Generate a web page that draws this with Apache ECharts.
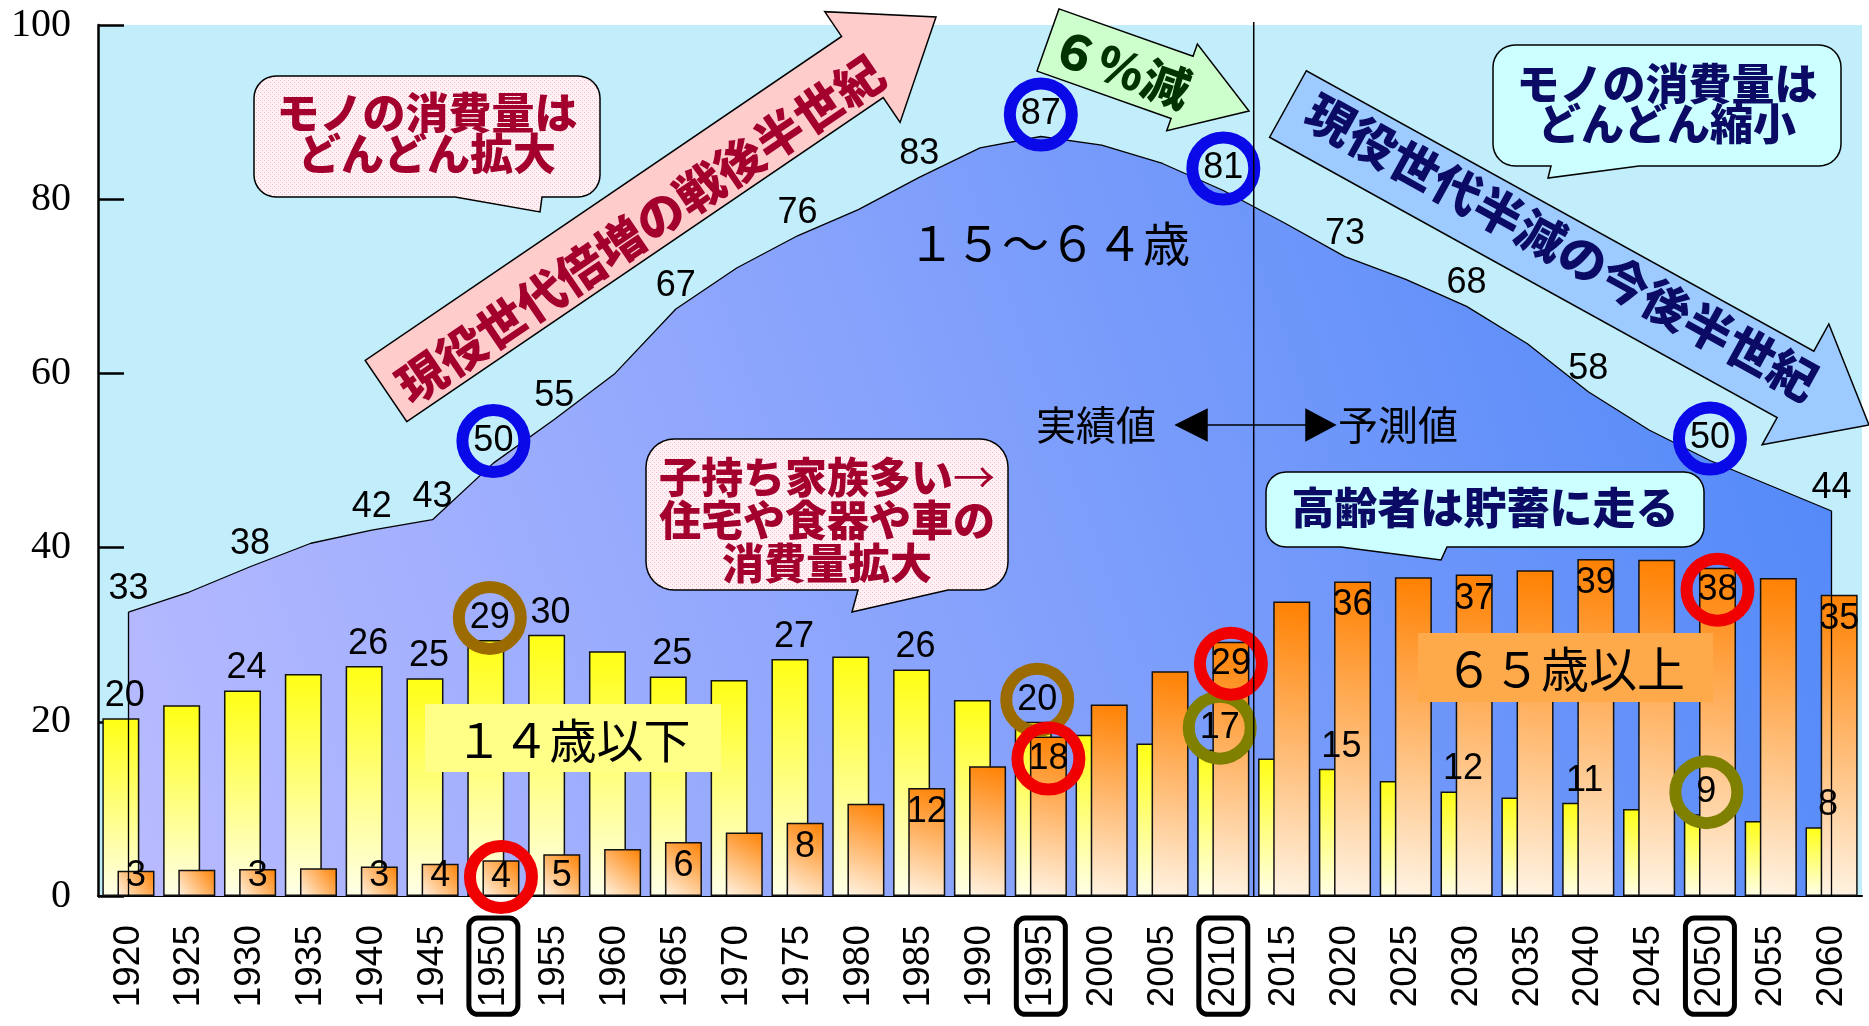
<!DOCTYPE html>
<html>
<head>
<meta charset="utf-8">
<title>年齢区分別人口の推移</title>
<script src="https://cdn.jsdelivr.net/npm/echarts@6.0.0/dist/echarts.min.js"></script>
<style>
html, body { margin: 0; padding: 0; background: #fff; }
#main { width: 1869px; height: 1026px; }
</style>
</head>
<body>
<div id="main"></div>
<script>
// 年次
const years = ['1920', '1925', '1930', '1935', '1940', '1945', '1950', '1955', '1960', '1965',
  '1970', '1975', '1980', '1985', '1990', '1995', '2000', '2005', '2010', '2015',
  '2020', '2025', '2030', '2035', '2040', '2045', '2050', '2055', '2060'];
// 14歳以下（百万人）
const age0to14 = [20.4, 21.9, 23.6, 25.5, 26.4, 25.0, 29.4, 30.0, 28.1, 25.2,
  24.8, 27.2, 27.5, 26.0, 22.5, 20.0, 18.5, 17.5, 16.8, 15.8,
  14.6, 13.2, 12.0, 11.3, 10.7, 10.0, 9.4, 8.6, 7.9];
// 15～64歳
const age15to64 = [32.6, 34.9, 37.8, 40.5, 42.0, 43.2, 49.7, 54.7, 60.0, 67.4,
  72.1, 75.8, 78.8, 82.5, 85.9, 87.2, 86.2, 84.1, 81.0, 77.3,
  73.4, 70.8, 67.7, 63.4, 57.9, 53.5, 50.0, 47.1, 44.2];
// 65歳以上
const age65plus = [2.9, 3.0, 3.1, 3.2, 3.4, 3.7, 4.1, 4.8, 5.4, 6.2,
  7.3, 8.4, 10.6, 12.4, 14.9, 18.3, 22.0, 25.8, 29.2, 33.8,
  36.1, 36.6, 36.9, 37.4, 38.7, 38.6, 37.7, 36.5, 34.6];
// 数値を表示する年
const labelYears = ['1920', '1930', '1940', '1945', '1950', '1955', '1965', '1975', '1985',
  '1995', '2010', '2020', '2030', '2040', '2050', '2060'];
// 丸で囲む年（軸ラベルも枠で囲む）
const circledYears = ['1950', '1995', '2010', '2050'];
// 実績値と予測値の境目
const lastActualYear = '2010';
const firstForecastYear = '2015';

const CJK = "'Noto Sans CJK JP', 'Noto Sans CJK SC', sans-serif";
const numFont = { fontFamily: "'Liberation Sans', Arial, sans-serif", fontSize: 36, lineHeight: 36, color: '#000' };

// 丸囲み
function ring(color) {
  return { width: 62, height: 62, lineHeight: 62, borderColor: color, borderWidth: 12, borderRadius: 31 };
}

function withLabels(values, labelFor) {
  return values.map((v, i) => {
    const y = years[i];
    if (labelYears.indexOf(y) < 0) return { value: v, label: { show: false } };
    return { value: v, label: Object.assign({ show: true }, labelFor(v, y, circledYears.indexOf(y) >= 0)) };
  });
}

const chart = echarts.init(document.getElementById('main'));

chart.setOption({
  animation: false,
  grid: {
    left: 98, right: 7, top: 25, bottom: 130,
    show: true, backgroundColor: '#C2EEFC', borderWidth: 0
  },
  xAxis: {
    type: 'category',
    data: years,
    axisLine: { lineStyle: { color: '#000', width: 2 } },
    axisTick: { show: false },
    axisLabel: {
      interval: 0,
      rotate: 90,
      margin: 22,
      color: '#000',
      fontFamily: "'Liberation Sans', Arial, sans-serif",
      fontSize: 37,
      formatter: function (v) {
        return circledYears.indexOf(v) >= 0 ? '{box|' + v + '}' : '{n|' + v + '}';
      },
      rich: {
        n: { fontSize: 37, lineHeight: 40, padding: [6, 7] },
        box: { fontSize: 37, lineHeight: 40, padding: [6, 7], borderColor: '#000', borderWidth: 5, borderRadius: 9 }
      }
    }
  },
  yAxis: {
    type: 'value',
    min: 0, max: 100, interval: 20,
    axisLine: { show: true, lineStyle: { color: '#000', width: 2.5 } },
    axisTick: { show: true, inside: true, length: 26, lineStyle: { color: '#000', width: 2.5 } },
    splitLine: { show: false },
    axisLabel: { color: '#000', fontFamily: "'Liberation Serif', 'Times New Roman', serif", fontSize: 40, margin: 27 }
  },
  series: [
    {
      name: '15～64歳',
      type: 'line',
      z: 1,
      symbol: 'circle',
      symbolSize: 2,
      showSymbol: true,
      itemStyle: { color: 'rgba(0,0,0,0)', borderWidth: 0 },
      data: withLabels(age15to64, (v, y, c) => c
        ? Object.assign({ distance: -10 }, ring('#0A0AE8'))
        : { distance: 4 }),
      lineStyle: { color: '#000', width: 1.3 },
      areaStyle: {
        opacity: 1,
        color: new echarts.graphic.LinearGradient(0, 1, 1, 0.2, [
          { offset: 0, color: '#B9BBFF' },
          { offset: 1, color: '#5088F8' }
        ])
      },
      label: Object.assign({ position: 'top', formatter: p => Math.round(p.value) }, numFont),
      markLine: {
        silent: true,
        symbol: 'none',
        label: { show: false },
        lineStyle: { color: '#000', width: 1.3, type: 'solid' },
        data: [
          [{ coord: [years[0], 0] }, { coord: [years[0], age15to64[0]] }],
          [{ coord: [years[years.length - 1], 0] }, { coord: [years[years.length - 1], age15to64[age15to64.length - 1]] }]
        ]
      }
    },
    {
      name: '14歳以下',
      type: 'bar',
      barWidth: 37,
      barGap: '-59%',
      data: withLabels(age0to14, (v, y, c) => c
        ? Object.assign({ distance: -9 }, ring(y < '2000' ? '#9C6B00' : '#7F7F00'))
        : { distance: 4 }),
      itemStyle: {
        borderColor: '#111', borderWidth: 1.5,
        color: new echarts.graphic.LinearGradient(0, 0, 0, 1, [
          { offset: 0, color: '#FFFF14' },
          { offset: 1, color: '#FFFFE8' }
        ])
      },
      label: Object.assign({ position: 'top', offset: [4, 0], formatter: p => Math.round(p.value) }, numFont)
    },
    {
      name: '65歳以上',
      type: 'bar',
      barWidth: 37,
      barGap: '-59%',
      data: withLabels(age65plus, (v, y, c) => {
        const low = v < 6;
        const pos = low ? 'insideBottom' : 'insideTop';
        if (c) return Object.assign({ position: pos, distance: low ? -12 : -9 }, ring('#F00000'));
        return { position: pos, distance: low ? 2 : 6 };
      }),
      itemStyle: {
        borderColor: '#111', borderWidth: 1.5,
        color: new echarts.graphic.LinearGradient(1, 0, 0, 1, [
          { offset: 0, color: '#FF8000' },
          { offset: 1, color: '#FFF4E4' }
        ])
      },
      label: Object.assign({ formatter: p => Math.round(p.value) }, numFont)
    }
  ]
});

// ---- 注記 ----
// ピンクのドット模様
const dot = document.createElement('canvas');
dot.width = 4; dot.height = 4;
const dctx = dot.getContext('2d');
dctx.fillStyle = '#FFF1F4'; dctx.fillRect(0, 0, 4, 4);
dctx.fillStyle = '#F6BACA'; dctx.fillRect(0, 0, 1, 1); dctx.fillRect(2, 2, 1, 1);
const pinkFill = { image: dot, repeat: 'repeat' };

function arrowPts(x0, y0, x1, y1, bw, hw, hl) {
  const dx = x1 - x0, dy = y1 - y0, L = Math.hypot(dx, dy);
  const ux = dx / L, uy = dy / L, nx = -uy, ny = ux;
  const bx = x1 - ux * hl, by = y1 - uy * hl;
  return [
    [x0 + nx * bw / 2, y0 + ny * bw / 2], [bx + nx * bw / 2, by + ny * bw / 2], [bx + nx * hw / 2, by + ny * hw / 2],
    [x1, y1],
    [bx - nx * hw / 2, by - ny * hw / 2], [bx - nx * bw / 2, by - ny * bw / 2], [x0 - nx * bw / 2, y0 - ny * bw / 2]
  ];
}

// 角丸の吹き出し（下辺にしっぽ）
function calloutPts(x, y, w, h, r, t1, tx, ty, t2) {
  const pts = [];
  function arc(cx, cy, a0, a1) {
    for (let k = 0; k <= 8; k++) {
      const a = a0 + (a1 - a0) * k / 8;
      pts.push([cx + r * Math.cos(a), cy + r * Math.sin(a)]);
    }
  }
  arc(x + w - r, y + r, -Math.PI / 2, 0);
  arc(x + w - r, y + h - r, 0, Math.PI / 2);
  pts.push([t2, y + h], [tx, ty], [t1, y + h]);
  arc(x + r, y + h - r, Math.PI / 2, Math.PI);
  arc(x + r, y + r, Math.PI, Math.PI * 1.5);
  return pts;
}

function shape(type, shp, fill, z) {
  return { type: type, z: z || 100, silent: true, shape: shp, style: { fill: fill, stroke: '#000', lineWidth: 1.5 } };
}

function label(x, y, text, o) {
  return {
    type: 'text', z: 110, silent: true, x: x, y: y, rotation: (o.rot || 0) * Math.PI / 180,
    style: {
      text: text, align: 'center', verticalAlign: 'middle',
      fill: o.color || '#000', fontFamily: CJK, fontSize: o.size || 42,
      fontWeight: o.weight || 'normal', lineHeight: o.lh || o.size || 42, rich: o.rich
    }
  };
}

const heavy = 900;
const red = '#A3002E', navy = '#0B0B66';

const xa = chart.convertToPixel({ xAxisIndex: 0 }, lastActualYear);
const xb = chart.convertToPixel({ xAxisIndex: 0 }, firstForecastYear);
const divX = (xa + xb) / 2;
const yTop = chart.convertToPixel({ yAxisIndex: 0 }, 100);
const yBot = chart.convertToPixel({ yAxisIndex: 0 }, 0);

chart.setOption({
  graphic: [
    // 区切り線
    { type: 'line', z: 50, silent: true, shape: { x1: divX, y1: yTop - 3, x2: divX, y2: yBot }, style: { stroke: '#000', lineWidth: 1.5 } },
    // 実績値 ←→ 予測値
    { type: 'line', z: 60, silent: true, shape: { x1: 1200, y1: 425, x2: 1310, y2: 425 }, style: { stroke: '#000', lineWidth: 1.5 } },
    shape('polygon', { points: [[1176, 425], [1207, 409.5], [1207, 440.5]] }, '#000', 60),
    shape('polygon', { points: [[1335, 425], [1306, 409.5], [1306, 440.5]] }, '#000', 60),
    label(1096, 425, '実績値', { size: 40 }),
    label(1398, 425, '予測値', { size: 40 }),

    // 矢印
    shape('polygon', { points: arrowPts(386, 391, 936, 17, 74, 134, 89) }, '#FFCCCC'),
    label(640, 229, '現役世代倍増の戦後半世紀', { size: 48, weight: heavy, color: red, rot: 34.2 }),
    shape('polygon', { points: arrowPts(1048, 40, 1249, 111, 66, 92, 71) }, '#CCFFCC'),
    label(1121, 68, '６％減', { size: 48, weight: heavy, color: '#003300', rot: -19.5 }),
    shape('polygon', { points: arrowPts(1288, 104, 1869, 425, 76, 138, 84) }, '#9ECBFF'),
    label(1562, 247, '現役世代半減の今後半世紀', { size: 48, weight: heavy, color: navy, rot: -28.9 }),

    // 吹き出し
    shape('polygon', { points: calloutPts(254, 76, 346, 121, 22, 455, 540, 212, 542) }, pinkFill),
    label(427, 133, 'モノの消費量は\nどんどん拡大', { size: 43, lh: 41, weight: heavy, color: red }),
    shape('polygon', { points: calloutPts(1493, 45, 348, 121, 22, 1551, 1548, 178, 1639) }, '#CCFFFF'),
    label(1667, 104, 'モノの消費量は\nどんどん縮小', { size: 43, lh: 40, weight: heavy, color: navy }),
    shape('polygon', { points: calloutPts(646, 439, 362, 151, 28, 858, 852, 612, 948) }, pinkFill),
    label(827, 520, '{b|子持ち家族多い}{a|→}\n{b|住宅や食器や車の}\n{b|消費量拡大}', {
      size: 42, lh: 43, weight: heavy, color: red,
      rich: {
        b: { fontFamily: CJK, fontSize: 42, lineHeight: 43, fontWeight: heavy, fill: red },
        a: { fontFamily: CJK, fontSize: 42, lineHeight: 43, fontWeight: 'normal', fill: red }
      }
    }),
    shape('polygon', { points: calloutPts(1266, 472, 438, 75, 20, 1341, 1441, 560, 1447) }, '#CCFFFF'),
    label(1485, 508, '高齢者は貯蓄に走る', { size: 43, weight: heavy, color: navy }),

    // 区分名
    label(1049, 243, '１５～６４歳', { size: 47 }),
    { type: 'rect', z: 105, silent: true, shape: { x: 425, y: 704, width: 296, height: 68 }, style: { fill: '#FFFF88' } },
    label(573, 740, '１４歳以下', { size: 47 }),
    { type: 'rect', z: 105, silent: true, shape: { x: 1418, y: 633, width: 295, height: 69 }, style: { fill: '#FFAA4A' } },
    label(1565, 669, '６５歳以上', { size: 48 })
  ]
});
</script>
</body>
</html>
